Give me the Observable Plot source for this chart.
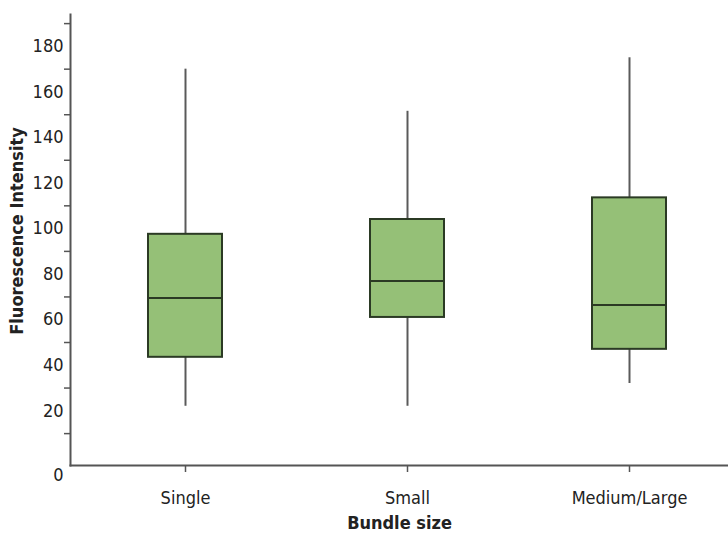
<!DOCTYPE html>
<html><head><meta charset="utf-8">
<script src="https://cdn.jsdelivr.net/npm/d3@7"></script>
<script src="https://cdn.jsdelivr.net/npm/@observablehq/plot@0.6"></script>
<style>
body{margin:0;background:#fff;}
#chart svg{font-family:"DejaVu Sans Condensed","DejaVu Sans",sans-serif;}
g[aria-label="x-axis label"] text{font-weight:bold;}
</style></head>
<body><div id="chart"></div>
<script>
const categories = ["Single", "Small", "Medium/Large"];
const whiskerLow = [22, 22, 32];
const q1 = [43.5, 61, 47];
const median = [69.5, 77, 66.5];
const q3 = [97.5, 104, 113.5];
const whiskerHigh = [170, 151.5, 175];
const yTickLabels = [20, 40, 60, 80, 100, 120, 140, 160, 180];
const yMinorTicks = [10, 30, 50, 70, 90, 110, 130, 150, 170, 190];
const zeroLabel = [0];
const yTitle = "Fluorescence Intensity";
const xTitle = "Bundle size";

const data = categories.map((c, i) => ({cat: c, lo: whiskerLow[i], q1: q1[i], med: median[i], q3: q3[i], hi: whiskerHigh[i]}));
const axisColor = "#555";

const plot = Plot.plot({
  width: 728, height: 534,
  marginLeft: 70, marginRight: 0, marginTop: 14, marginBottom: 69,
  style: {fontSize: "18px", color: "#222", background: "#fff"},
  x: {domain: categories, range: [147, 666], paddingInner: 0.667, paddingOuter: 0},
  y: {domain: [-4, 194]},
  marks: [
    Plot.ruleX(data, {x: "cat", y1: "lo", y2: "q1", stroke: "#5a5a5a", strokeWidth: 2}),
    Plot.ruleX(data, {x: "cat", y1: "q3", y2: "hi", stroke: "#5a5a5a", strokeWidth: 2}),
    Plot.barY(data, {x: "cat", y1: "q1", y2: "q3", fill: "#95c077", stroke: "#2b3a24", strokeWidth: 2}),
    Plot.tickY(data, {x: "cat", y: "med", stroke: "#2b3a24", strokeWidth: 2}),
    Plot.axisY(yMinorTicks, {tickSize: 6, tickFormat: () => "", stroke: axisColor, strokeWidth: 1.5, label: null}),
    Plot.axisY(yTickLabels, {tickSize: 0, tickPadding: 7, label: null, fill: "#222"}),
    Plot.text(zeroLabel, {y: d => d, frameAnchor: "left", dx: -7, dy: 19, text: d => String(d), textAnchor: "end", fill: "#222", fontSize: 18}),
    Plot.text([yTitle], {frameAnchor: "left", dx: -53, dy: -9, rotate: -90, textAnchor: "middle", text: d => d, fontWeight: "bold", fontSize: 18, fill: "#222"}),
    Plot.axisX({tickSize: 7, tickPadding: 19, stroke: axisColor, strokeWidth: 1.5, label: xTitle, labelArrow: "none", labelAnchor: "center", labelOffset: 63, fill: "#222"}),
    Plot.frame({anchor: "left", stroke: axisColor, strokeWidth: 2}),
    Plot.frame({anchor: "bottom", stroke: axisColor, strokeWidth: 2})
  ]
});
document.getElementById("chart").append(plot);
</script></body></html>
